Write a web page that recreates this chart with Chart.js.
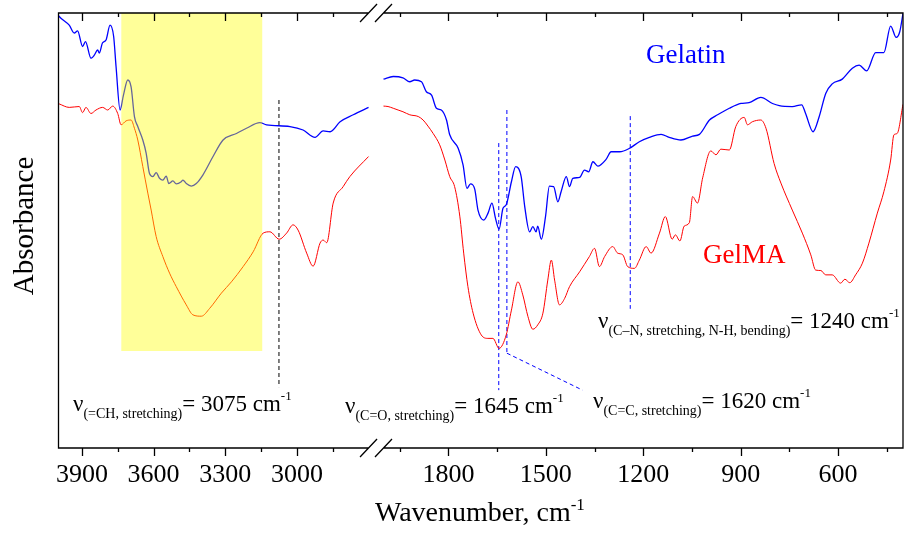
<!DOCTYPE html>
<html>
<head>
  <title>FTIR Gelatin / GelMA</title>
  <script src="https://cdn.jsdelivr.net/npm/chart.js"></script>
  <style>
    html, body { margin: 0; padding: 0; background: #fff; }
  </style>
</head>
<body>
  <canvas id="myChart" width="904" height="540"></canvas>

  <script>
    // Spectra, split at the axis break (4000-2700 | 2000-400 cm-1)
    var gelatinHighWn = [4000, 3995, 3953, 3932, 3918, 3897, 3885, 3862, 3848, 3834, 3827, 3814, 3799, 3782, 3767, 3757, 3740, 3726, 3708, 3694, 3680, 3666, 3645, 3631, 3617, 3603, 3589, 3575, 3561, 3547, 3536, 3519, 3505, 3484, 3477, 3463, 3442, 3421, 3393, 3351, 3309, 3253, 3211, 3155, 3127, 3029, 2974, 2924, 2890, 2861, 2819, 2764, 2700];
    var gelatinHighAbs = [0.996, 0.992, 0.972, 0.954, 0.959, 0.923, 0.934, 0.896, 0.903, 0.915, 0.908, 0.931, 0.938, 0.972, 0.946, 0.877, 0.777, 0.811, 0.846, 0.830, 0.762, 0.739, 0.708, 0.678, 0.631, 0.624, 0.633, 0.620, 0.616, 0.625, 0.608, 0.614, 0.607, 0.612, 0.616, 0.608, 0.602, 0.608, 0.628, 0.670, 0.708, 0.723, 0.735, 0.748, 0.743, 0.739, 0.731, 0.714, 0.729, 0.727, 0.750, 0.766, 0.783];

    var gelmaHighWn = [4000, 3995, 3953, 3911, 3897, 3883, 3862, 3841, 3813, 3792, 3771, 3750, 3736, 3715, 3694, 3680, 3666, 3645, 3624, 3610, 3589, 3561, 3533, 3505, 3463, 3435, 3400, 3365, 3316, 3274, 3225, 3183, 3141, 3113, 3074, 3043, 3016, 2995, 2959, 2932, 2903, 2890, 2875, 2848, 2806, 2778, 2700];
    var gelmaHighAbs = [0.792, 0.791, 0.783, 0.785, 0.771, 0.783, 0.769, 0.777, 0.783, 0.777, 0.786, 0.769, 0.743, 0.752, 0.754, 0.735, 0.708, 0.647, 0.586, 0.547, 0.486, 0.440, 0.402, 0.371, 0.329, 0.306, 0.303, 0.321, 0.356, 0.382, 0.417, 0.451, 0.494, 0.497, 0.480, 0.494, 0.513, 0.501, 0.448, 0.418, 0.471, 0.478, 0.472, 0.563, 0.601, 0.624, 0.670];

    var gelatinLowWn = [2000, 1970, 1940, 1919, 1904, 1883, 1868, 1852, 1837, 1822, 1806, 1796, 1770, 1755, 1743, 1732, 1719, 1709, 1691, 1678, 1666, 1655, 1644, 1632, 1622, 1606, 1593, 1576, 1565, 1550, 1540, 1530, 1525, 1514, 1501, 1489, 1476, 1463, 1453, 1437, 1427, 1417, 1396, 1381, 1368, 1355, 1340, 1314, 1299, 1273, 1242, 1212, 1181, 1145, 1120, 1084, 1048, 1027, 996, 971, 935, 899, 874, 838, 802, 781, 741, 712, 700, 677, 658, 638, 618, 587, 556, 535, 512, 484, 459, 438, 421, 410, 400];
    var gelatinLowAbs = [0.848, 0.854, 0.851, 0.842, 0.846, 0.842, 0.819, 0.811, 0.781, 0.777, 0.754, 0.720, 0.689, 0.651, 0.597, 0.607, 0.595, 0.547, 0.524, 0.540, 0.563, 0.528, 0.503, 0.551, 0.559, 0.612, 0.647, 0.624, 0.555, 0.497, 0.509, 0.497, 0.510, 0.480, 0.532, 0.602, 0.601, 0.566, 0.589, 0.624, 0.601, 0.620, 0.622, 0.639, 0.635, 0.658, 0.648, 0.664, 0.681, 0.681, 0.689, 0.704, 0.714, 0.721, 0.714, 0.708, 0.717, 0.721, 0.754, 0.766, 0.781, 0.792, 0.794, 0.806, 0.792, 0.787, 0.785, 0.789, 0.769, 0.727, 0.762, 0.815, 0.837, 0.848, 0.873, 0.880, 0.867, 0.909, 0.909, 0.970, 0.944, 0.957, 0.999];

    var gelmaLowWn = [2000, 1986, 1970, 1955, 1940, 1919, 1893, 1878, 1863, 1847, 1827, 1811, 1796, 1781, 1765, 1753, 1740, 1724, 1699, 1678, 1663, 1644, 1622, 1606, 1586, 1571, 1555, 1540, 1525, 1509, 1494, 1483, 1473, 1458, 1442, 1427, 1396, 1366, 1350, 1335, 1319, 1294, 1279, 1263, 1248, 1227, 1212, 1191, 1176, 1150, 1132, 1111, 1101, 1087, 1074, 1058, 1048, 1033, 1017, 992, 976, 961, 935, 915, 889, 879, 864, 838, 822, 797, 776, 741, 710, 684, 669, 653, 638, 618, 592, 579, 564, 546, 525, 505, 479, 459, 438, 428, 418, 400];
    var gelmaLowAbs = [0.786, 0.785, 0.781, 0.777, 0.773, 0.766, 0.762, 0.754, 0.740, 0.723, 0.697, 0.662, 0.624, 0.601, 0.533, 0.448, 0.371, 0.310, 0.260, 0.252, 0.252, 0.229, 0.260, 0.317, 0.382, 0.352, 0.302, 0.273, 0.283, 0.310, 0.386, 0.432, 0.386, 0.329, 0.344, 0.371, 0.405, 0.440, 0.459, 0.417, 0.440, 0.463, 0.448, 0.444, 0.417, 0.413, 0.432, 0.463, 0.448, 0.494, 0.532, 0.480, 0.490, 0.476, 0.510, 0.518, 0.578, 0.563, 0.621, 0.683, 0.674, 0.687, 0.685, 0.739, 0.760, 0.743, 0.750, 0.754, 0.735, 0.654, 0.609, 0.547, 0.494, 0.444, 0.409, 0.408, 0.398, 0.398, 0.379, 0.388, 0.380, 0.398, 0.425, 0.471, 0.540, 0.589, 0.662, 0.720, 0.723, 0.790];

    // Peak markers (dashed lines) and their labels
    var peakWn = [3075, 1645, 1620, 1240];
    var peakNames = ['=CH, stretching', 'C=O, stretching', 'C=C, stretching', 'C\u2013N, stretching, N-H, bending'];
    var peakTop = [0.800, 0.701, 0.777, 0.763];
    var peakBottom = [0.140, 0.133, 0.218, 0.320];
    var peakColors = ['#000000', '#0000ff', '#0000ff', '#0000ff'];
    var leaderWn = [1620, 1387];
    var leaderAbs = [0.218, 0.133];

    // Highlighted O-H / N-H band
    var bandWn = [3735, 3145];
    var bandAbs = [0.223, 1.0];

    // Axis ticks
    var majorTicks = [3900, 3600, 3300, 3000, 1800, 1500, 1200, 900, 600];
    var minorTicks = [3750, 3450, 3150, 2850, 1950, 1650, 1350, 1050, 750, 450];

    // Broken axis: 4000-2700 on the left, 2000-400 on the right
    var LEFT_FROM = 4000, LEFT_TO = 2700, RIGHT_FROM = 2000, RIGHT_TO = 400;
    var SPLIT_L = 0.3675, SPLIT_R = 0.3852;

    class BrokenScale extends Chart.LinearScale {
      getPixelForValue(value) {
        var f;
        if (value >= LEFT_TO) {
          f = (LEFT_FROM - value) / (LEFT_FROM - LEFT_TO) * SPLIT_L;
        } else {
          f = SPLIT_R + (RIGHT_FROM - value) / (RIGHT_FROM - RIGHT_TO) * (1 - SPLIT_R);
        }
        return this.getPixelForDecimal(f);
      }
      getValueForPixel(pixel) {
        var f = this.getDecimalForPixel(pixel);
        if (f <= (SPLIT_L + SPLIT_R) / 2) return LEFT_FROM - f / SPLIT_L * (LEFT_FROM - LEFT_TO);
        return RIGHT_FROM - (f - SPLIT_R) / (1 - SPLIT_R) * (RIGHT_FROM - RIGHT_TO);
      }
    }
    BrokenScale.id = 'broken';
    BrokenScale.defaults = Chart.LinearScale.defaults;
    Chart.register(BrokenScale);

    var SERIF = '"Liberation Serif", "Times New Roman", serif';

    function pts(wn, ab) {
      return wn.map(function (w, i) { return { x: w, y: ab[i] }; });
    }

    function spectrum(wn, ab, color, width) {
      return {
        data: pts(wn, ab),
        borderColor: color,
        borderWidth: width,
        pointRadius: 0,
        fill: false,
        cubicInterpolationMode: 'monotone'
      };
    }

    var datasets = [
      spectrum(gelatinHighWn, gelatinHighAbs, '#0000ff', 1.3),
      spectrum(gelatinLowWn, gelatinLowAbs, '#0000ff', 1.3),
      spectrum(gelmaHighWn, gelmaHighAbs, '#ff0000', 1),
      spectrum(gelmaLowWn, gelmaLowAbs, '#ff0000', 1)
    ];
    peakWn.forEach(function (w, i) {
      datasets.push({
        data: [{ x: w, y: peakTop[i] }, { x: w, y: peakBottom[i] }],
        borderColor: peakColors[i], borderWidth: 1, borderDash: [4, 3],
        pointRadius: 0, tension: 0
      });
    });
    datasets.push({
      data: pts(leaderWn, leaderAbs),
      borderColor: '#0000ff', borderWidth: 1, borderDash: [4, 3],
      pointRadius: 0, tension: 0
    });

    // text with sub/superscripts: parts = [text, size, baseline shift]
    function drawRich(ctx, x, y, parts, color) {
      ctx.save();
      ctx.fillStyle = color || '#000';
      ctx.textAlign = 'left';
      ctx.textBaseline = 'alphabetic';
      parts.forEach(function (p) {
        ctx.font = p[1] + 'px ' + SERIF;
        ctx.fillText(p[0], x, y + (p[2] || 0));
        x += ctx.measureText(p[0]).width;
      });
      ctx.restore();
    }

    function peakLabel(ctx, x, y, i) {
      drawRich(ctx, x, y, [
        ['\u03bd', 23],
        ['(' + peakNames[i] + ')', 14, 7],
        ['= ' + peakWn[i] + ' cm', 23],
        ['-1', 13, -11]
      ]);
    }

    var decor = {
      id: 'ftirDecor',
      afterDatasetsDraw: function (chart) {
        var ctx = chart.ctx, xs = chart.scales.x, ys = chart.scales.y;
        var x1 = xs.getPixelForValue(bandWn[0]), x2 = xs.getPixelForValue(bandWn[1]);
        var y1 = ys.getPixelForValue(bandAbs[1]), y2 = ys.getPixelForValue(bandAbs[0]);
        ctx.save();
        ctx.fillStyle = 'rgba(255, 255, 0, 0.4)';
        ctx.fillRect(x1, y1, x2 - x1, y2 - y1);
        ctx.restore();
      },
      afterDraw: function (chart) {
        var ctx = chart.ctx, a = chart.chartArea, xs = chart.scales.x;
        var gapL = xs.getPixelForValue(LEFT_TO), gapR = xs.getPixelForValue(RIGHT_FROM);
        var top = a.top, bot = a.bottom, left = a.left + 0.5, right = a.right;

        ctx.save();
        ctx.strokeStyle = '#000';
        ctx.lineWidth = 1.3;
        ctx.beginPath();
        ctx.moveTo(gapL, top); ctx.lineTo(left, top); ctx.lineTo(left, bot); ctx.lineTo(gapL, bot);
        ctx.moveTo(gapR, top); ctx.lineTo(right, top); ctx.lineTo(right, bot); ctx.lineTo(gapR, bot);
        // break marks
        [gapL, gapR].forEach(function (gx) {
          [top, bot].forEach(function (gy) {
            ctx.moveTo(gx - 8.5, gy + 9);
            ctx.lineTo(gx + 8.5, gy - 9);
          });
        });
        // tick marks: outward at the bottom, inward at the top
        majorTicks.concat(minorTicks).forEach(function (v) {
          var px = Math.round(xs.getPixelForValue(v)) + 0.5;
          var len = majorTicks.indexOf(v) >= 0 ? 8 : 4;
          ctx.moveTo(px, bot); ctx.lineTo(px, bot + len);
          ctx.moveTo(px, top); ctx.lineTo(px, top + len);
        });
        ctx.stroke();
        ctx.restore();

        // axis titles
        drawRich(ctx, 375, 521, [['Wavenumber, cm', 28], ['-1', 17, -11]]);
        ctx.save();
        ctx.translate(33, 226);
        ctx.rotate(-Math.PI / 2);
        ctx.textAlign = 'center';
        ctx.fillStyle = '#000';
        ctx.font = '29px ' + SERIF;
        ctx.fillText('Absorbance', 0, 0);
        ctx.restore();

        // series names
        drawRich(ctx, 646, 63, [['Gelatin', 27]], '#0000ff');
        drawRich(ctx, 703, 263, [['GelMA', 27]], '#ff0000');

        // peak labels
        peakLabel(ctx, 73, 411, 0);
        peakLabel(ctx, 345, 413, 1);
        peakLabel(ctx, 593, 408, 2);
        peakLabel(ctx, 598, 328, 3);
      }
    };

    var ctx = document.getElementById('myChart').getContext('2d');
    var myChart = new Chart(ctx, {
      type: 'line',
      data: { datasets: datasets },
      plugins: [decor],
      options: {
        responsive: false,
        animation: false,
        events: [],
        layout: { padding: { left: 58, right: 1, top: 13, bottom: 0 } },
        plugins: { legend: { display: false }, tooltip: { enabled: false } },
        scales: {
          x: {
            type: 'broken',
            min: 400,
            max: 4000,
            grid: { display: false, drawTicks: false },
            border: { display: false },
            ticks: {
              autoSkip: false,
              maxRotation: 0,
              padding: 12,
              color: '#000',
              font: { family: SERIF, size: 26 },
              callback: function (v) { return majorTicks.indexOf(v) >= 0 ? String(v) : ''; }
            },
            afterBuildTicks: function (scale) {
              scale.ticks = majorTicks.concat(minorTicks).map(function (v) { return { value: v }; });
            },
            afterFit: function (scale) { scale.height = 92; }
          },
          y: { display: false, min: 0, max: 1 }
        }
      }
    });
  </script>
</body>
</html>
